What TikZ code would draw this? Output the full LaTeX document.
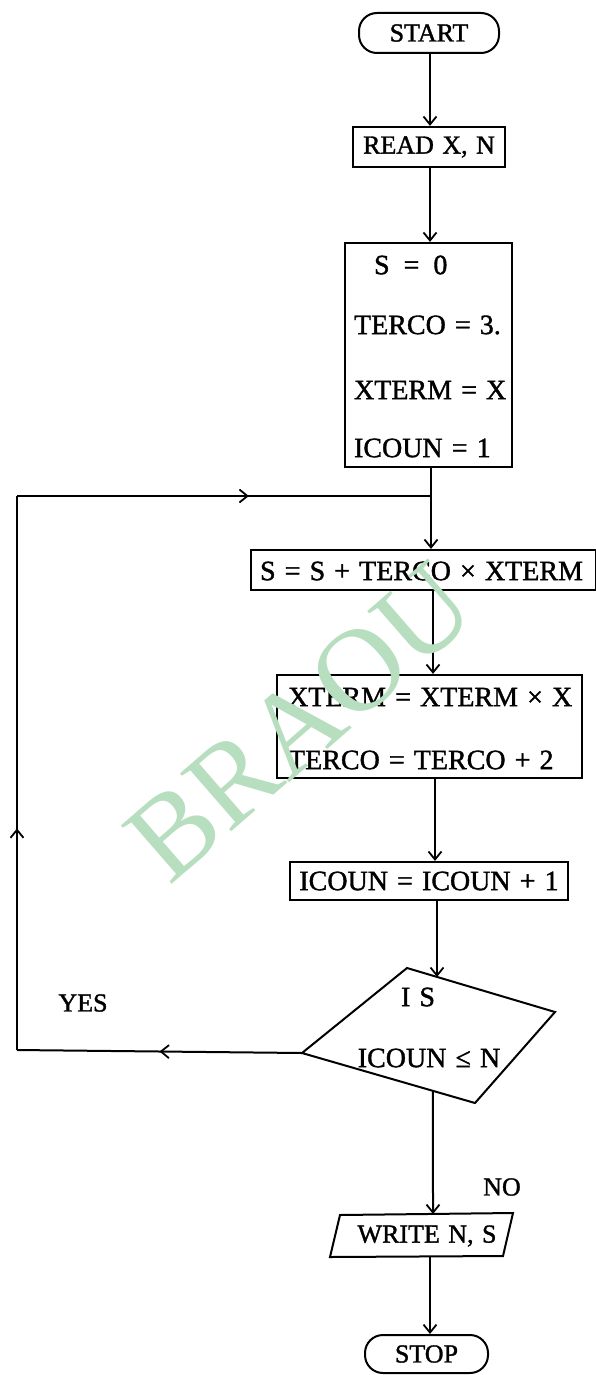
\documentclass[tikz,border=0pt]{standalone}
\usepackage{fontspec}
\setmainfont{Liberation Serif}[WordSpace=1.3, FakeBold=1.3]
\newfontfamily\wmfont{Liberation Serif}
\usetikzlibrary{arrows.meta,decorations.markings}
\definecolor{wmgreen}{RGB}{183,222,190}
\begin{document}
\begin{tikzpicture}[x=1pt,y=-1pt,
  line width=2.1pt,
  >={Straight Barb[length=8pt,width=13pt,line width=1.8pt]},
  box/.style={draw, rectangle, inner sep=0pt, line width=2.2pt},
  term/.style={draw, rectangle, rounded corners=18pt, inner sep=0pt, line width=2pt},
  txt/.style={inner sep=0pt, font=\fontsize{28}{32}\selectfont},
  stxt/.style={inner sep=0pt, font=\fontsize{26}{30}\selectfont},
  flow/.style={->, line width=2pt},
  midarrow/.style={line width=2pt, postaction={decorate},
    decoration={markings, mark=at position #1 with {\arrow{>}}}},
]
\useasboundingbox (0,0) rectangle (596,1375);
\fill[white] (0,0) rectangle (596,1375);

% terminals and boxes
\node[term, stxt, minimum width=140pt, minimum height=40pt] (start) at (429,33) {START};
\node[box, stxt, minimum width=152pt, minimum height=40pt] (read) at (429,147) {READ X, N};

\node[box, minimum width=167pt, minimum height=224pt] (init) at (428.5,355) {};
\node[txt, anchor=west] (i1) at (373,265) {S\hspace{14pt}=\hspace{14pt}0};
\node[txt, anchor=west] (i2) at (353,325) {TERCO = 3.};
\node[txt, anchor=west] (i3) at (353,390) {XTERM = X};
\node[txt, anchor=west] (i4) at (353,448) {ICOUN = 1};

\node[box, minimum width=345pt, minimum height=40pt] (sbox) at (423.5,570) {};
\node[txt, anchor=west] (stxt1) at (259,571) {S = S + TERCO × XTERM};

\node[box, minimum width=305pt, minimum height=103pt] (xbox) at (429.5,726.5) {};
\node[txt, anchor=west] (x1) at (287,697) {XTERM = XTERM × X};
\node[txt, anchor=west] (x2) at (287,760) {TERCO = TERCO + 2};

\node[box, txt, minimum width=278pt, minimum height=38pt] (cbox) at (429,881) {ICOUN = ICOUN + 1};

% decision
\coordinate (dT) at (407,968);
\coordinate (dR) at (555,1012);
\coordinate (dB) at (475,1103);
\coordinate (dL) at (302,1053);
\draw[line width=2pt, line join=miter] (dT) -- (dR) -- (dB) -- (dL) -- cycle;
\node[txt] (is) at (418,997) {I S};
\node[txt] (cond) at (429,1058) {ICOUN ≤ N};
\path (dT) -- (dR) coordinate[pos=0.2027] (dIn);
\path (dL) -- (dB) coordinate[pos=0.757] (dOut);

% output
\coordinate (wTL) at (340,1215);
\coordinate (wTR) at (513,1213);
\coordinate (wBR) at (503,1256);
\coordinate (wBL) at (330,1257);
\draw[line width=2pt] (wTL) -- (wTR) -- (wBR) -- (wBL) -- cycle;
\node[stxt] (write) at (427,1236) {WRITE N, S};
\coordinate (wIn) at (433,1214);
\coordinate (wOut) at (430,1256.5);

\node[term, stxt, minimum width=123pt, minimum height=38pt] (stop) at (426.5,1354) {STOP};

% labels
\node[stxt] (yes) at (83,1003) {YES};
\node[stxt] (no) at (502,1187) {NO};

% connectors
\coordinate (c1) at (430,0);
\draw[flow] (start.south -| c1) -- (read.north -| c1);
\draw[flow] (read.south -| c1) -- (init.north -| c1);
\coordinate (j) at (431,496);
\draw[line width=2pt] (init.south -| j) -- (j);
\draw[flow] (j) -- (sbox.north -| j);
\coordinate (c2) at (433,0);
\draw[flow] (sbox.south -| c2) -- (xbox.north -| c2);
\coordinate (c3) at (435,0);
\draw[flow] (xbox.south -| c3) -- (cbox.north -| c3);
\draw[flow] (cbox.south -| dIn) -- (dIn);
\draw[flow] (dOut) -- (wIn);
\draw[flow] (wOut) -- (stop.north -| wOut);

% loop back
\coordinate (lb) at (17,1050);
\coordinate (lt) at (17,496);
\draw[midarrow=0.5] (dL) -- (lb);
\draw[midarrow=0.4] (lb) -- (lt);
\draw[midarrow=0.56] (lt) -- (j);

% watermark
\node[inner sep=0pt, text=wmgreen, rotate=41, font=\wmfont\fontsize{118}{118}\selectfont] (wm) at (300,722) {BRAOU};
\end{tikzpicture}
\end{document}
